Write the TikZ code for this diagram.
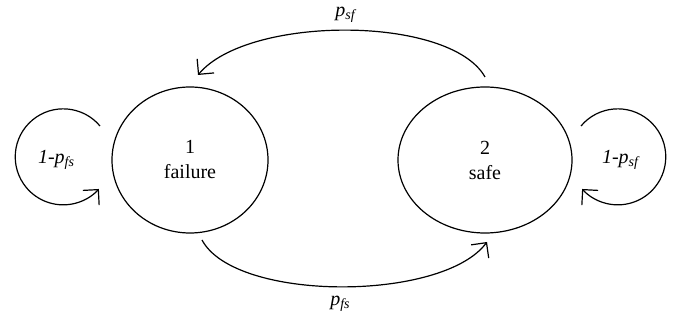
\documentclass[tikz,border=0pt]{standalone}
\usepackage{fontspec}
\setmainfont{Liberation Serif}
\usetikzlibrary{arrows.meta,calc,shapes.geometric}
\tikzset{
  state/.style={draw, line width=1.2pt, ellipse, inner sep=0pt, align=center, font=\rmfamily\fontsize{20}{25}\selectfont},
  arr/.style={line width=1.2pt, -{Straight Barb[length=11pt,width=22pt,line width=1.2pt]}},
  lab/.style={font=\rmfamily\itshape\fontsize{20}{24}\selectfont, inner sep=0pt},
}
\newcommand{\sbs}[1]{\raisebox{-0.3ex}{\fontsize{14}{14}\selectfont\itshape #1}}
\begin{document}
\begin{tikzpicture}[x=1pt,y=1pt]
\useasboundingbox (0,0) rectangle (676,320);
\node[state, minimum width=156pt, minimum height=146pt] (L) at (190,160) {1\\failure};
\node[state, minimum width=174pt, minimum height=146pt] (R) at (485,160) {2\\safe};
% top arc
\coordinate (a0) at (485,243);
\coordinate (a1) at (198,245);
\draw[arr] (a0) .. controls (450,305) and (248,305) .. (a1);
\node[lab] (psf) at (345,305) {p\sbs{sf}};
% bottom arc
\coordinate (b0) at (202,80);
\coordinate (b1) at (487,78);
\draw[arr] (b0) .. controls (235,18) and (442,18) .. (b1);
\node[lab] (pfs) at (340,16) {p\sbs{fs}};
% left loop
\coordinate (l0) at (100,194);
\draw[arr] (l0) arc[start angle=40, end angle=318, radius=48];
\node[lab] (ll) at (56,160) {1-p\sbs{fs}};
% right loop
\coordinate (r0) at (581,194);
\draw[arr] (r0) arc[start angle=140, end angle=-138, radius=48];
\node[lab] (rl) at (620,160) {1-p\sbs{sf}};
\end{tikzpicture}
\end{document}
